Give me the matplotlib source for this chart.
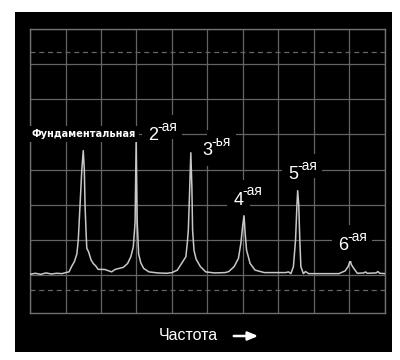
import matplotlib.pyplot as plt
from matplotlib.patches import Rectangle

# спектр (частота в клетках сетки, уровень в клетках над нулевой линией)
freq = [0.0, 0.15, 0.3, 0.45, 0.6, 0.75, 0.9, 1.05, 1.1,
        1.17, 1.25, 1.32, 1.36, 1.41, 1.46, 1.50, 1.53, 1.55, 1.58, 1.60,
        1.65, 1.72, 1.78, 1.85, 1.92, 2.1, 2.3, 2.4, 2.63, 2.75, 2.84, 2.91,
        2.96, 2.99, 3.02, 3.06, 3.12, 3.2, 3.35, 3.6, 3.85, 4.0, 4.15, 4.27,
        4.39, 4.43, 4.46, 4.50, 4.53, 4.56, 4.58, 4.62, 4.68, 4.8, 4.95,
        5.2, 5.5, 5.6, 5.75, 5.87, 5.94, 5.99, 6.03, 6.06, 6.1, 6.2, 6.34,
        6.6, 7.2, 7.28, 7.35, 7.42, 7.48, 7.52, 7.54, 7.57, 7.6, 7.63, 7.7,
        7.76, 7.85, 8.7, 8.88, 8.96, 9.0, 9.02, 9.05, 9.12, 9.22, 9.4, 9.45,
        9.5, 9.75, 9.8, 9.85, 10.0]
level = [0.02, 0.05, 0.02, 0.06, 0.03, 0.05, 0.04, 0.08, 0.09,
         0.24, 0.38, 0.6, 1.0, 2.0, 3.0, 3.54, 3.0, 2.0, 1.2, 0.76,
         0.66, 0.43, 0.33, 0.26, 0.16, 0.16, 0.09, 0.16, 0.22, 0.33, 0.52, 0.8,
         1.5, 3.82, 1.5, 0.6, 0.35, 0.19, 0.09, 0.06, 0.05, 0.07, 0.14, 0.33,
         0.52, 0.9, 1.28, 2.5, 3.48, 2.5, 1.28, 0.7, 0.45, 0.24, 0.09,
         0.06, 0.07, 0.1, 0.24, 0.47, 0.9, 1.4, 1.68, 1.2, 0.71, 0.33, 0.14,
         0.07, 0.07, 0.09, 0.04, 0.24, 1.0, 2.0, 2.40, 2.0, 1.0, 0.24, 0.04,
         0.1, 0.04, 0.04, 0.12, 0.24, 0.35, 0.43, 0.3, 0.19, 0.05, 0.06, 0.09,
         0.05, 0.06, 0.1, 0.05, 0.04]

label_nums = ['2', '3', '4', '5', '6']
label_sups = ['-ая', '-ья', '-ая', '-ая', '-ая']
label_x = [3.33, 4.86, 5.73, 7.28, 8.69]
label_y = [3.96, 3.53, 2.13, 2.85, 0.83]

fig = plt.figure(figsize=(4, 3.6), dpi=100, facecolor='white')
fig.patches.append(Rectangle((15 / 400, 1 - 352 / 360), 377 / 400, 340 / 360,
                             transform=fig.transFigure, fc='black', ec='none', zorder=-1))

ax = fig.add_axes([30 / 400, 1 - 313 / 360, 355 / 400, 284 / 360])
ax.set_facecolor('black')
gridc = '#646464'
ax.set_xlim(0, 10)
ax.set_ylim(-1.08, 7.0)
ax.set_xticks(range(11))
ax.set_yticks(range(8))
ax.tick_params(length=0, labelbottom=False, labelleft=False)
ax.grid(True, color=gridc, lw=0.9)
for s in ax.spines.values():
    s.set_color('#707070')
    s.set_linewidth(1.0)
ax.axhline(6.35, color=gridc, lw=0.9, ls=(0, (4, 3)))
ax.axhline(-0.43, color=gridc, lw=0.9, ls=(0, (4, 3)))

ax.plot(freq, level, color='#c8c8c8', lw=1.1, zorder=3)

box = dict(boxstyle='square,pad=0.35', fc='black', ec='none')
ax.text(0.05, 4.01, 'Фундаментальная', color='white', fontsize=7, fontweight='bold',
        family='DejaVu Sans', ha='left', va='center', bbox=box, zorder=4)

# сначала чёрные подложки, потом сам текст поверх
for layer, col, bb in [(4, 'none', box), (5, 'white', None)]:
    for n, sup, x, y in zip(label_nums, label_sups, label_x, label_y):
        ax.annotate(sup, xy=(x, y), xytext=(6.6, 6.3), textcoords='offset points',
                    color=col, fontsize=10, family='Liberation Sans',
                    ha='left', va='center', bbox=bb, zorder=layer)
        ax.text(x, y, n, color=col, fontsize=13, family='Liberation Sans',
                ha='left', va='center', bbox=bb, zorder=layer)

fig.text(159 / 400, 1 - 335.5 / 360, 'Частота', color='white', fontsize=11.5,
         family='Liberation Sans', ha='left', va='center')
ax.annotate('', xy=(261 / 400, 1 - 336 / 360), xycoords='figure fraction',
            xytext=(231 / 400, 1 - 336 / 360), textcoords='figure fraction',
            annotation_clip=False,
            arrowprops=dict(arrowstyle='-|>,head_length=0.6,head_width=0.25',
                            color='white', lw=1.8))

fig.savefig('out.png', dpi=100, facecolor='white')
